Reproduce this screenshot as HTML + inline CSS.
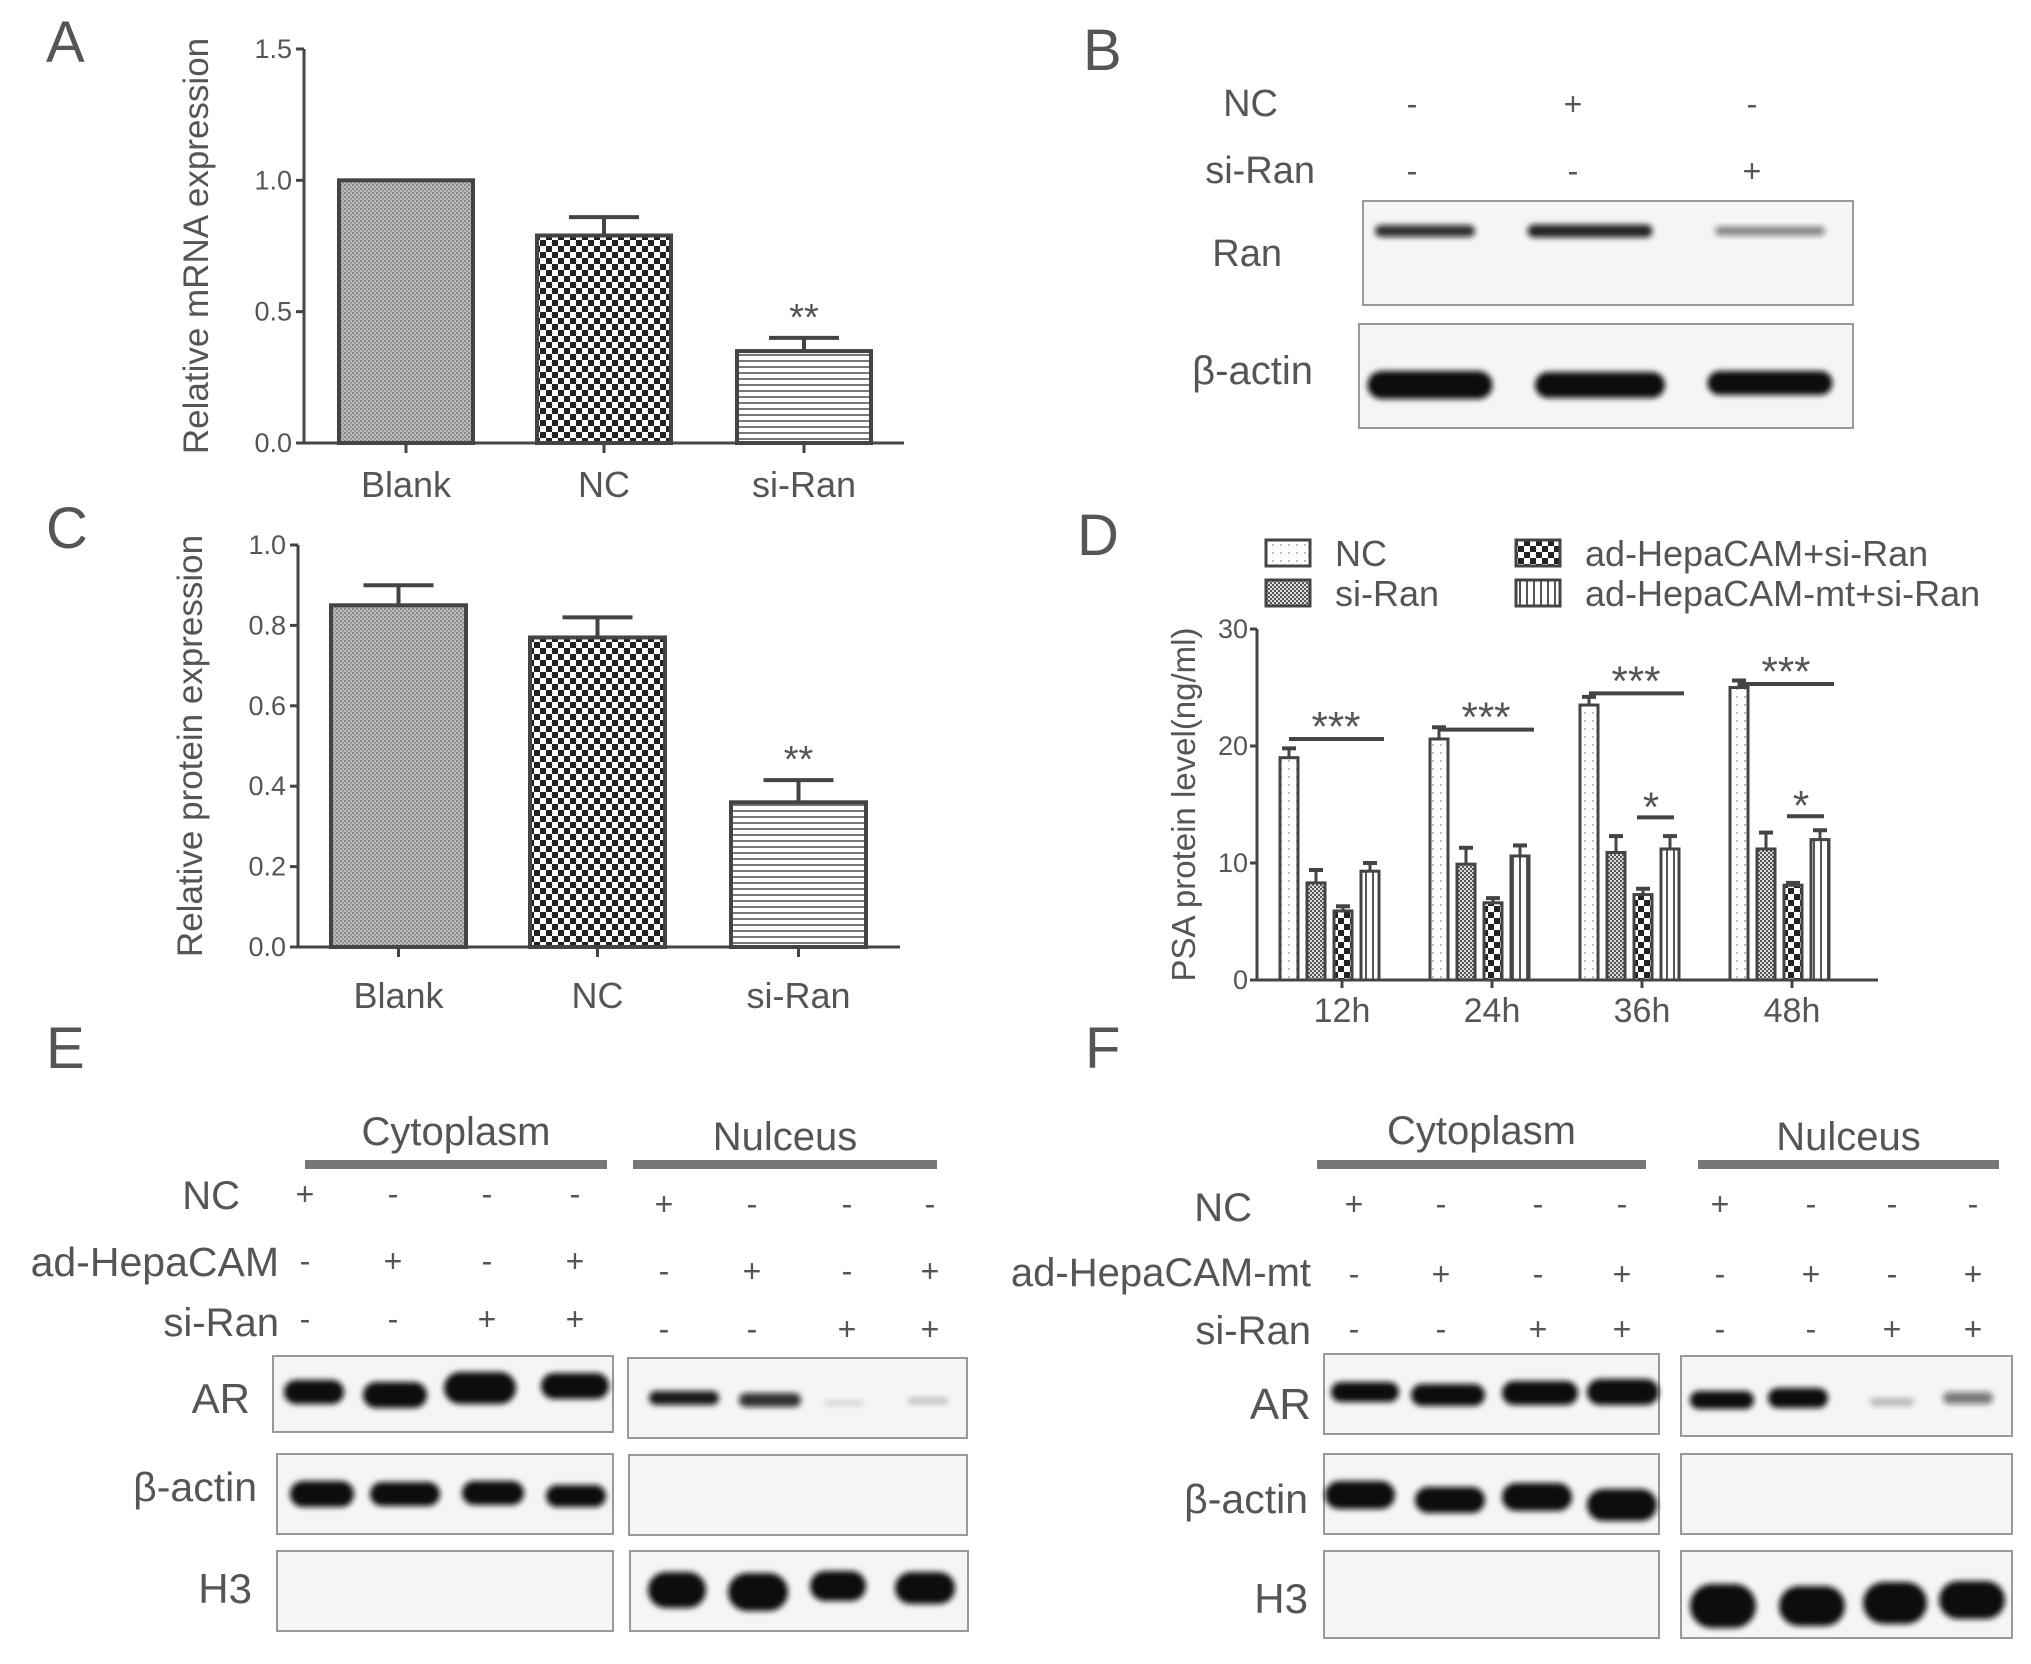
<!DOCTYPE html>
<html><head><meta charset="utf-8"><style>
html,body{margin:0;padding:0;background:#fff;}
svg{display:block;font-family:"Liberation Sans",sans-serif;}
.lab{fill:#555;}
.n{font-family:"Liberation Sans Narrow","Liberation Sans",sans-serif;fill:#555;}
</style></head><body>
<svg id="fig" width="2031" height="1664" viewBox="0 0 2031 1664" xmlns="http://www.w3.org/2000/svg">
<defs>
<pattern id="pBlank" width="4" height="4" patternUnits="userSpaceOnUse"><rect width="4" height="4" fill="#bbb"/><rect width="2" height="2" fill="#888"/><rect x="2" y="2" width="2" height="2" fill="#999"/></pattern>
<pattern id="pCheck" width="12" height="12" patternUnits="userSpaceOnUse"><rect width="12" height="12" fill="#fff"/><rect width="6" height="6" fill="#222"/><rect x="6" y="6" width="6" height="6" fill="#222"/></pattern>
<pattern id="pHoriz" width="6" height="6" patternUnits="userSpaceOnUse"><rect width="6" height="6" fill="#fff"/><rect width="6" height="2" fill="#777"/></pattern>
<pattern id="pDots" width="8" height="8" patternUnits="userSpaceOnUse"><rect width="8" height="8" fill="#fff"/><rect width="2" height="2" fill="#bbb"/></pattern>
<pattern id="pFine" width="4" height="4" patternUnits="userSpaceOnUse"><rect width="4" height="4" fill="#ddd"/><rect width="2" height="2" fill="#555"/><rect x="2" y="2" width="2" height="2" fill="#555"/></pattern>
<pattern id="pVert" width="7" height="7" patternUnits="userSpaceOnUse"><rect width="7" height="7" fill="#fff"/><rect width="2" height="7" fill="#555"/></pattern>
<filter id="blur" x="-20%" y="-50%" width="140%" height="200%"><feGaussianBlur stdDeviation="3"/></filter>
</defs>
<g id="panels"></g>
</svg>
<script>
const NS="http://www.w3.org/2000/svg";
const root=document.getElementById('panels');
function el(tag,attrs,parent,text){const e=document.createElementNS(NS,tag);for(const k in attrs)e.setAttribute(k,attrs[k]);if(text!==undefined)e.textContent=text;(parent||root).appendChild(e);return e;}

// ---- Panel A data ----
const aCategories=["Blank","NC","si-Ran"];
const aValues=[1.0,0.79,0.35];
const aErrors=[0,0.07,0.05];
const aTicks=[0,0.5,1.0,1.5];
const aTickLabels=["0.0","0.5","1.0","1.5"];
const aStars=["","","**"];
// ---- Panel C data ----
const cCategories=["Blank","NC","si-Ran"];
const cValues=[0.85,0.77,0.36];
const cErrors=[0.05,0.05,0.055];
const cTicks=[0,0.2,0.4,0.6,0.8,1.0];
const cTickLabels=["0.0","0.2","0.4","0.6","0.8","1.0"];
const cStars=["","","**"];
// ---- Panel D data ----
const dGroups=["12h","24h","36h","48h"];
const dSeries=["NC","si-Ran","ad-HepaCAM+si-Ran","ad-HepaCAM-mt+si-Ran"];
const dNC=[19.0,20.6,23.5,25.0];
const dSiRan=[8.3,9.9,10.9,11.2];
const dAdH=[5.9,6.6,7.3,8.1];
const dAdHmt=[9.3,10.6,11.2,12.0];
const dNCerr=[0.8,1.0,0.7,0.6];
const dSiRanErr=[1.1,1.4,1.4,1.4];
const dAdHerr=[0.4,0.4,0.5,0.2];
const dAdHmtErr=[0.7,0.9,1.1,0.8];
const dTicks=[0,10,20,30];
const dSigMain=[20.6,21.4,24.5,25.3];
const dSigSmall=[null,null,13.9,14.0];

function barChart(cfg){
  const g=el('g',{});
  
  
  const y=v=>cfg.y0+(cfg.y1-cfg.y0)*(v-cfg.min)/(cfg.max-cfg.min);
  const ax=el('line',{x1:cfg.ax,y1:y(cfg.max),x2:cfg.ax,y2:y(0),stroke:'#444','stroke-width':3},g);
  
  const xx=el('line',{x1:cfg.ax-8,y1:y(0),x2:cfg.axEnd,y2:y(0),stroke:'#444','stroke-width':3},g);
  
  cfg.ticks.forEach((t,i)=>{
    el('line',{x1:cfg.ax-8,y1:y(t),x2:cfg.ax,y2:y(t),stroke:'#444','stroke-width':3},g);
    const tl=el('text',{x:cfg.ax-12,y:y(t)+9,'text-anchor':'end','font-size':27,class:'lab'},g,cfg.tickLabels[i]);
    
  });
  const yt=el('text',{transform:`translate(${cfg.titleX},${(y(cfg.max)+y(0))/2}) rotate(-90)`,'text-anchor':'middle','font-size':35,class:'lab'},g,cfg.title);
  
  cfg.cats.forEach((c,i)=>{
    const x0=cfg.barX[i],w=cfg.barW,cx=x0+w/2;
    const v=cfg.vals[i];
    if(cfg.errs[i]>0){
      el('line',{x1:cx,y1:y(v),x2:cx,y2:y(v+cfg.errs[i]),stroke:'#444','stroke-width':4},g);
      el('line',{x1:cx-35,y1:y(v+cfg.errs[i]),x2:cx+35,y2:y(v+cfg.errs[i]),stroke:'#444','stroke-width':4},g);
    }
    const b=el('rect',{x:x0,y:y(v),width:w,height:y(0)-y(v),fill:cfg.fills[i],stroke:'#444','stroke-width':4},g);
    
    el('line',{x1:cx,y1:y(0),x2:cx,y2:y(0)+10,stroke:'#444','stroke-width':3},g);
    const cl=el('text',{x:cx,y:cfg.labY,'text-anchor':'middle','font-size':36,class:'lab'},g,c);
    
    if(cfg.stars[i]){const s=el('text',{x:cx,y:y(v+cfg.errs[i])-8,'text-anchor':'middle','font-size':38,class:'lab'},g,cfg.stars[i]);
      }
  });
}
barChart({name:'panel-a-chart',min:0,max:1.5,y0:443,y1:49,ax:304,axEnd:904,ticks:aTicks,tickLabels:aTickLabels,cats:aCategories,vals:aValues,errs:aErrors,stars:aStars,barX:[339,537,737],barW:134,fills:['url(#pBlank)','url(#pCheck)','url(#pHoriz)'],labY:497,titleX:208,title:'Relative mRNA expression'});
barChart({name:'panel-c-chart',min:0,max:1.0,y0:947,y1:545,ax:298,axEnd:900,ticks:cTicks,tickLabels:cTickLabels,cats:cCategories,vals:cValues,errs:cErrors,stars:cStars,barX:[331,530,731],barW:135,fills:['url(#pBlank)','url(#pCheck)','url(#pHoriz)'],labY:1008,titleX:202,title:'Relative protein expression'});

// Panel D
(function(){
  const g=el('g',{});
  
  
  const y=v=>980+(629-980)*v/30;
  const ax=1257,axEnd=1878;
  const centers=[1342,1492,1642,1792];
  const offs=[-62,-35,-8,19],bw=18;
  const fills=['url(#pDots)','url(#pFine)','url(#pCheck)','url(#pVert)'];
  const series=[dNC,dSiRan,dAdH,dAdHmt],errs=[dNCerr,dSiRanErr,dAdHerr,dAdHmtErr];
  const a=el('line',{x1:ax,y1:y(30),x2:ax,y2:y(0),stroke:'#444','stroke-width':3},g);
  
  const b=el('line',{x1:ax-6,y1:y(0),x2:axEnd,y2:y(0),stroke:'#444','stroke-width':3},g);
  
  dTicks.forEach(t=>{
    el('line',{x1:ax-7,y1:y(t),x2:ax,y2:y(t),stroke:'#444','stroke-width':3},g);
    const tl=el('text',{x:ax-9,y:y(t)+9,'text-anchor':'end','font-size':27,class:'n'},g,String(t));
    
  });
  const yt=el('text',{transform:`translate(${1195},${(y(30)+y(0))/2}) rotate(-90)`,'text-anchor':'middle','font-size':33,class:'lab'},g,'PSA protein level(ng/ml)');
  
  dGroups.forEach((gn,gi)=>{
    const cx=centers[gi];
    series.forEach((s,si)=>{
      const x0=cx+offs[si],bx=x0+bw/2,v=s[gi],e=errs[si][gi];
      el('line',{x1:bx,y1:y(v),x2:bx,y2:y(v+e),stroke:'#444','stroke-width':3},g);
      el('line',{x1:bx-7,y1:y(v+e),x2:bx+7,y2:y(v+e),stroke:'#444','stroke-width':4},g);
      const r=el('rect',{x:x0,y:y(v),width:bw,height:y(0)-y(v),fill:fills[si],stroke:'#444','stroke-width':3},g);
      
    });
    el('line',{x1:cx,y1:y(0),x2:cx,y2:y(0)+8,stroke:'#444','stroke-width':3},g);
    const xl=el('text',{x:cx,y:1022,'text-anchor':'middle','font-size':34,class:'n'},g,gn);
    
    const sm=dSigMain[gi];
    const l=el('line',{x1:cx+offs[0]+9,y1:y(sm),x2:cx+offs[0]+104,y2:y(sm),stroke:'#444','stroke-width':4},g);
    
    el('text',{x:cx+offs[0]+56,y:y(sm)+2,'text-anchor':'middle','font-size':42,class:'lab'},g,'***');
    if(dSigSmall[gi]!==null){
      const ss=dSigSmall[gi];
      el('line',{x1:cx+offs[2]+3,y1:y(ss),x2:cx+offs[3]+13,y2:y(ss),stroke:'#444','stroke-width':4},g);
      el('text',{x:cx+offs[2]+17,y:y(ss)+4,'text-anchor':'middle','font-size':42,class:'lab'},g,'*');
    }
  });
  const lg=[[1266,540,1335,0],[1266,580,1335,1],[1516,540,1585,2],[1516,580,1585,3]];
  lg.forEach(([bx,by,tx,i])=>{
    const le=el('g',{},g);
    
    el('rect',{x:bx,y:by,width:44,height:26,fill:fills[i],stroke:'#444','stroke-width':3},le);
    el('text',{x:tx,y:by+26,'font-size':36,class:'n'},le,dSeries[i]);
  });
})();

function txt(x,y,s,size,name,anchor,cls){const t=el('text',{x:x,y:y,'font-size':size,'text-anchor':anchor||'start',class:cls||'lab'},root,s);
  
  return t;}
txt(46,62,'A',58,'panel-label-a');
txt(1083,70,'B',58,'panel-label-b');
txt(46,548,'C',58,'panel-label-c');
txt(1077,555,'D',58,'panel-label-d');
txt(46,1068,'E',58,'panel-label-e');
txt(1085,1068,'F',58,'panel-label-f');

function blotBox(x,y,w,h,name){const r=el('rect',{x:x,y:y,width:w,height:h,fill:'#f5f5f5',stroke:'#999','stroke-width':2});
  
  }
function band(cx,cy,w,h,op){el('rect',{x:cx-w/2,y:cy-h/2,width:w,height:h,rx:h/2,fill:'#111','fill-opacity':op,filter:'url(#blur)'});}
function signs(xs,y,arr,name){arr.forEach((s,i)=>{const t=el('text',{x:xs[i],y:y,'font-size':32,'text-anchor':'middle',class:'lab'},root,s);
  
  });}

// Panel B
txt(1278,116,'NC',38,'row-label-nc','end','n');
txt(1315,183,'si-Ran',38,'row-label-si-ran','end','n');
signs([1412,1573,1752],115,['-','+','-'],'sign');
signs([1412,1573,1752],182,['-','-','+'],'sign');
blotBox(1363,201,490,104,'ran-blot');
band(1425,231,100,12,0.85);band(1590,231,125,13,0.9);band(1770,231,110,9,0.5);
blotBox(1359,324,494,104,'beta-actin-blot-b');
band(1430,385,125,28,1);band(1600,385,130,26,1);band(1770,383,125,24,1);
txt(1282,266,'Ran',38,'blot-label-ran','end','n');
txt(1313,384,'β-actin',40,'blot-label-beta-actin','end','n');

// Panel E
function header(x1,x2,label,ty,name){const l=el('rect',{x:x1,y:1160,width:x2-x1,height:9,fill:'#777'});
  
  txt((x1+x2)/2,ty,label,40,name+'-label','middle','n');}
header(305,607,'Cytoplasm',1145,'e-cytoplasm');header(633,937,'Nulceus',1150,'e-nucleus');
txt(240,1209,'NC',40,'e-row-nc','end','n');
txt(279,1276,'ad-HepaCAM',41,'e-row-ad-hepacam','end','n');
txt(279,1336,'si-Ran',40,'e-row-si-ran','end','n');
const eL=[305,393,487,575],eR=[664,752,847,930];
signs(eL,1205,['+','-','-','-'],'sign');signs(eR,1215,['+','-','-','-'],'sign');
signs(eL,1272,['-','+','-','+'],'sign');signs(eR,1282,['-','+','-','+'],'sign');
signs(eL,1330,['-','-','+','+'],'sign');signs(eR,1340,['-','-','+','+'],'sign');
blotBox(273,1356,340,76,'e-ar-cyto');blotBox(628,1358,339,80,'e-ar-nuc');
band(314,1392,60,24,1);band(395,1395,64,26,1);band(480,1388,72,32,1);band(575,1386,68,26,1);
band(684,1398,70,14,0.95);band(770,1400,62,14,0.85);band(844,1403,40,6,0.12);band(928,1401,40,7,0.2);
blotBox(277,1454,336,80,'e-actin-cyto');blotBox(629,1455,338,80,'e-actin-nuc');
band(322,1494,64,26,1);band(405,1494,70,24,1);band(493,1493,62,24,1);band(576,1496,60,22,1);
blotBox(277,1551,336,80,'e-h3-cyto');blotBox(630,1551,338,80,'e-h3-nuc');
band(677,1590,58,36,1);band(758,1592,60,38,1);band(838,1586,56,30,1);band(925,1588,60,32,1);
txt(250,1413,'AR',42,'e-blot-label-ar','end','n');
txt(257,1501,'β-actin',41,'e-blot-label-beta-actin','end','n');
txt(252,1603,'H3',42,'e-blot-label-h3','end','n');

// Panel F
header(1317,1646,'Cytoplasm',1144,'f-cytoplasm');header(1698,1999,'Nulceus',1150,'f-nucleus');
txt(1252,1221,'NC',40,'f-row-nc','end','n');
txt(1311,1286,'ad-HepaCAM-mt',40,'f-row-ad-hepacam-mt','end','n');
txt(1311,1344,'si-Ran',40,'f-row-si-ran','end','n');
const fL=[1354,1441,1538,1622],fR=[1720,1811,1892,1973];
signs(fL,1215,['+','-','-','-'],'sign');signs(fR,1215,['+','-','-','-'],'sign');
signs(fL,1285,['-','+','-','+'],'sign');signs(fR,1285,['-','+','-','+'],'sign');
signs(fL,1340,['-','-','+','+'],'sign');signs(fR,1340,['-','-','+','+'],'sign');
blotBox(1324,1354,335,80,'f-ar-cyto');blotBox(1681,1356,331,80,'f-ar-nuc');
band(1365,1392,68,20,1);band(1448,1395,74,22,1);band(1540,1393,76,24,1);band(1623,1392,72,26,1);
band(1722,1400,64,18,1);band(1798,1398,60,20,1);band(1892,1402,44,8,0.25);band(1968,1398,50,12,0.55);
blotBox(1324,1454,335,80,'f-actin-cyto');blotBox(1681,1454,331,80,'f-actin-nuc');
band(1360,1495,70,28,1);band(1450,1500,70,26,1);band(1537,1497,70,28,1);band(1622,1505,70,32,1);
blotBox(1324,1551,335,87,'f-h3-cyto');blotBox(1681,1551,331,87,'f-h3-nuc');
band(1723,1606,66,44,1);band(1812,1606,66,40,1);band(1895,1603,64,42,1);band(1972,1600,66,38,1);
txt(1311,1419,'AR',44,'f-blot-label-ar','end','n');
txt(1308,1513,'β-actin',41,'f-blot-label-beta-actin','end','n');
txt(1308,1613,'H3',42,'f-blot-label-h3','end','n');
</script>
</body></html>
